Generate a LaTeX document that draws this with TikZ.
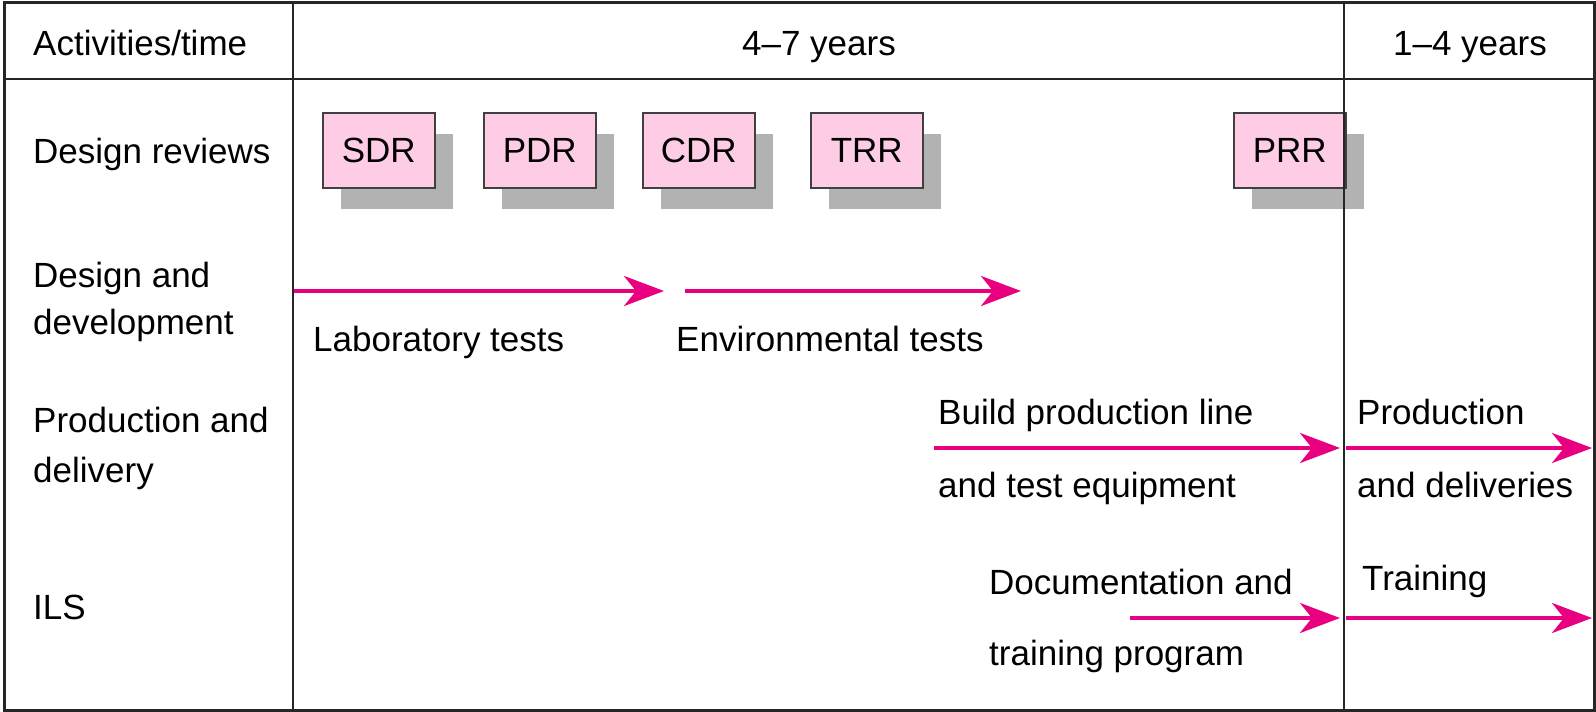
\documentclass[tikz,border=0pt]{standalone}
\usepackage{fontspec}
\setmainfont{Liberation Sans}
\usetikzlibrary{arrows.meta,shadows}
\definecolor{flow}{RGB}{232,0,128}
\definecolor{boxfill}{RGB}{255,204,230}
\definecolor{shade}{RGB}{178,178,178}
\tikzset{
  lbl/.style={anchor=base west, inner sep=0pt, font=\fontsize{35}{42}\selectfont},
  hdr/.style={anchor=base, inner sep=0pt, font=\fontsize{35}{42}\selectfont},
  review/.style={draw=black!75, line width=1.5pt, fill=boxfill,
    minimum width=112pt, minimum height=75pt, inner sep=0pt, anchor=north west,
    font=\fontsize{35}{42}\selectfont,
    drop shadow={shadow xshift=18pt, shadow yshift=-21pt, fill=shade, opacity=1}},
  flowarrow/.style={draw=flow, line width=4pt,
    -{Stealth[length=40pt,width=30pt,inset=12pt]}},
  rule/.style={line width=2.5pt, draw=black!85},
}
\begin{document}
\begin{tikzpicture}[x=1pt,y=-1pt]
\useasboundingbox (0,0) rectangle (1596,712);
\fill[white] (0,0) rectangle (1596,712);

% design review boxes
\node[review] (sdr) at (322,112) {SDR};
\node[review] (pdr) at (483,112) {PDR};
\node[review] (cdr) at (642,112) {CDR};
\node[review] (trr) at (810,112) {TRR};
\node[review] (prr) at (1233,112) {PRR};

% header texts
\node[lbl] (acttime) at (33,55) {Activities/time};
\node[hdr] (phaseA) at (819,55) {4--7 years};
\node[hdr] (phaseB) at (1470,55) {1--4 years};

% row labels
\node[lbl] (rowrev) at (33,163) {Design reviews};
\node[lbl] (rowdd1) at (33,287) {Design and};
\node[lbl] (rowdd2) at (33,334) {development};
\node[lbl] (rowpd1) at (33,432) {Production and};
\node[lbl] (rowpd2) at (33,482) {delivery};
\node[lbl] (rowils) at (33,619) {ILS};

% activity labels
\node[lbl] (labt) at (313,351) {Laboratory tests};
\node[lbl] (envt) at (676,351) {Environmental tests};
\node[lbl] (bpl1) at (938,424) {Build production line};
\node[lbl] (bpl2) at (938,497) {and test equipment};
\node[lbl] (prd1) at (1357,424) {Production};
\node[lbl] (prd2) at (1357,497) {and deliveries};
\node[lbl] (doc1) at (989,594) {Documentation and};
\node[lbl] (doc2) at (989,665) {training program};
\node[lbl] (trn) at (1362,590) {Training};

% arrow end points
\coordinate (labS) at (294,291);
\coordinate (labE) at (664,291);
\coordinate (envS) at (685,291);
\coordinate (envE) at (1021,291);
\coordinate (bplS) at (934,448);
\coordinate (bplE) at (1340,448);
\coordinate (prdS) at (1346,448);
\coordinate (prdE) at (1592,448);
\coordinate (docS) at (1130,618);
\coordinate (docE) at (1340,618);
\coordinate (trnS) at (1346,618);
\coordinate (trnE) at (1592,618);

\draw[flowarrow] (labS) -- (labE);
\draw[flowarrow] (envS) -- (envE);
\draw[flowarrow] (bplS) -- (bplE);
\draw[flowarrow] (prdS) -- (prdE);
\draw[flowarrow] (docS) -- (docE);
\draw[flowarrow] (trnS) -- (trnE);

% table frame
\draw[rule, line width=3pt] (4,2) rectangle (1594,710);
\draw[rule] (4,79) -- (1594,79);
\draw[rule] (293,2) -- (293,710);
\draw[rule] (1344,2) -- (1344,710);
\end{tikzpicture}
\end{document}
